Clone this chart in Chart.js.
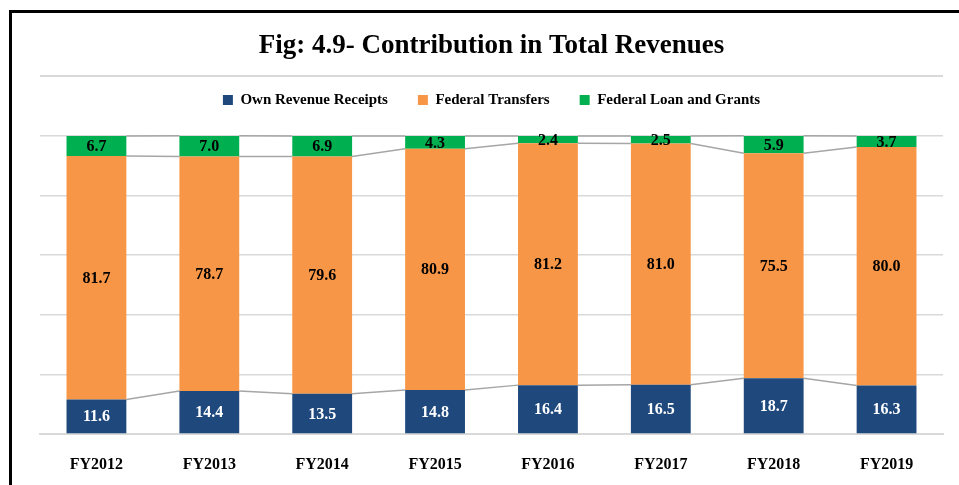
<!DOCTYPE html>
<html>
<head>
<meta charset="utf-8">
<script src="https://cdn.jsdelivr.net/npm/chart.js@4"></script>
<style>
  html, body { margin: 0; padding: 0; background: #fff; }
  #wrap { width: 959px; height: 485px; }
</style>
</head>
<body>
<div id="wrap"><canvas id="revChart" width="959" height="485"></canvas></div>
<script>
const years = ['FY2012', 'FY2013', 'FY2014', 'FY2015', 'FY2016', 'FY2017', 'FY2018', 'FY2019'];
const ownRevenue = [11.6, 14.4, 13.5, 14.8, 16.4, 16.5, 18.7, 16.3];
const federalTransfers = [81.7, 78.7, 79.6, 80.9, 81.2, 81.0, 75.5, 80.0];
const federalLoans = [6.7, 7.0, 6.9, 4.3, 2.4, 2.5, 5.9, 3.7];

const serif = '"Liberation Serif", "Times New Roman", serif';

// frame + rule under the title
const framePlugin = {
  id: 'frame',
  beforeDraw(chart) {
    const ctx = chart.ctx;
    const area = chart.chartArea;
    ctx.save();
    ctx.fillStyle = '#fff';
    ctx.fillRect(0, 0, chart.width, chart.height);
    ctx.fillStyle = '#000';
    ctx.fillRect(9, 10, 3, chart.height);
    ctx.fillRect(9, 10, chart.width, 3);
    ctx.strokeStyle = '#d9d9d9';
    ctx.lineWidth = 2;
    ctx.beginPath();
    ctx.moveTo(area.left, 76);
    ctx.lineTo(area.right, 76);
    ctx.stroke();
    ctx.restore();
  }
};

// excel style series lines joining the tops of the segments
const seriesLines = {
  id: 'seriesLines',
  beforeDatasetsDraw(chart) {
    const ctx = chart.ctx;
    ctx.save();
    ctx.strokeStyle = '#a6a6a6';
    ctx.lineWidth = 1.5;
    chart.data.datasets.forEach((ds, d) => {
      const bars = chart.getDatasetMeta(d).data;
      for (let i = 0; i < bars.length - 1; i++) {
        const a = bars[i], b = bars[i + 1];
        ctx.beginPath();
        ctx.moveTo(a.x + a.width / 2, a.y);
        ctx.lineTo(b.x - b.width / 2, b.y);
        ctx.stroke();
      }
    });
    ctx.restore();
  }
};

const valueLabels = {
  id: 'valueLabels',
  afterDatasetsDraw(chart) {
    const ctx = chart.ctx;
    ctx.save();
    ctx.font = 'bold 16px ' + serif;
    ctx.textAlign = 'center';
    ctx.textBaseline = 'middle';
    chart.data.datasets.forEach((ds, d) => {
      chart.getDatasetMeta(d).data.forEach((bar, i) => {
        ctx.fillStyle = d === 0 ? '#fff' : '#000';
        ctx.fillText(ds.data[i].toFixed(1), bar.x, (bar.y + bar.base) / 2 + 1);
      });
    });
    ctx.restore();
  }
};

new Chart(document.getElementById('revChart'), {
  type: 'bar',
  data: {
    labels: years,
    datasets: [
      { label: 'Own Revenue Receipts', data: ownRevenue, backgroundColor: '#1F497D', xAxisID: 'x', yAxisID: 'y' },
      { label: 'Federal Transfers', data: federalTransfers, backgroundColor: '#F79646', xAxisID: 'x', yAxisID: 'y' },
      { label: 'Federal Loan and Grants', data: federalLoans, backgroundColor: '#00B050', xAxisID: 'x', yAxisID: 'y' }
    ]
  },
  options: {
    responsive: false,
    animation: false,
    layout: { padding: { left: 40, right: 16, top: 0, bottom: 12 } },
    datasets: { bar: { barPercentage: 0.53, categoryPercentage: 1 } },
    plugins: {
      title: {
        display: true,
        text: 'Fig: 4.9- Contribution in Total Revenues',
        color: '#000',
        font: { family: serif, size: 27, weight: 'bold' },
        padding: { top: 30, bottom: 0 }
      },
      legend: {
        labels: {
          color: '#000',
          boxWidth: 10,
          boxHeight: 10,
          padding: 30,
          font: { family: serif, size: 15, weight: 'bold' }
        }
      },
      tooltip: { enabled: false }
    },
    scales: {
      x: {
        stacked: true,
        grid: { display: false, drawTicks: false },
        border: { color: '#d9d9d9', width: 2 },
        ticks: { color: '#000', padding: 21, font: { family: serif, size: 16, weight: 'bold' } },
        afterFit(scale) { scale.height = 39; }
      },
      y: {
        stacked: true,
        min: 0,
        max: 100,
        ticks: { display: false, stepSize: 20 },
        grid: { color: '#d9d9d9', lineWidth: 1.5, drawTicks: false },
        border: { display: false }
      },
      // empty axis that only keeps a gap between legend and plot
      spacer: {
        type: 'category',
        position: 'top',
        ticks: { display: false },
        grid: { display: false, drawTicks: false },
        border: { display: false },
        afterFit(scale) { scale.height = 18.6; }
      }
    }
  },
  plugins: [framePlugin, seriesLines, valueLabels]
});
</script>
</body>
</html>
